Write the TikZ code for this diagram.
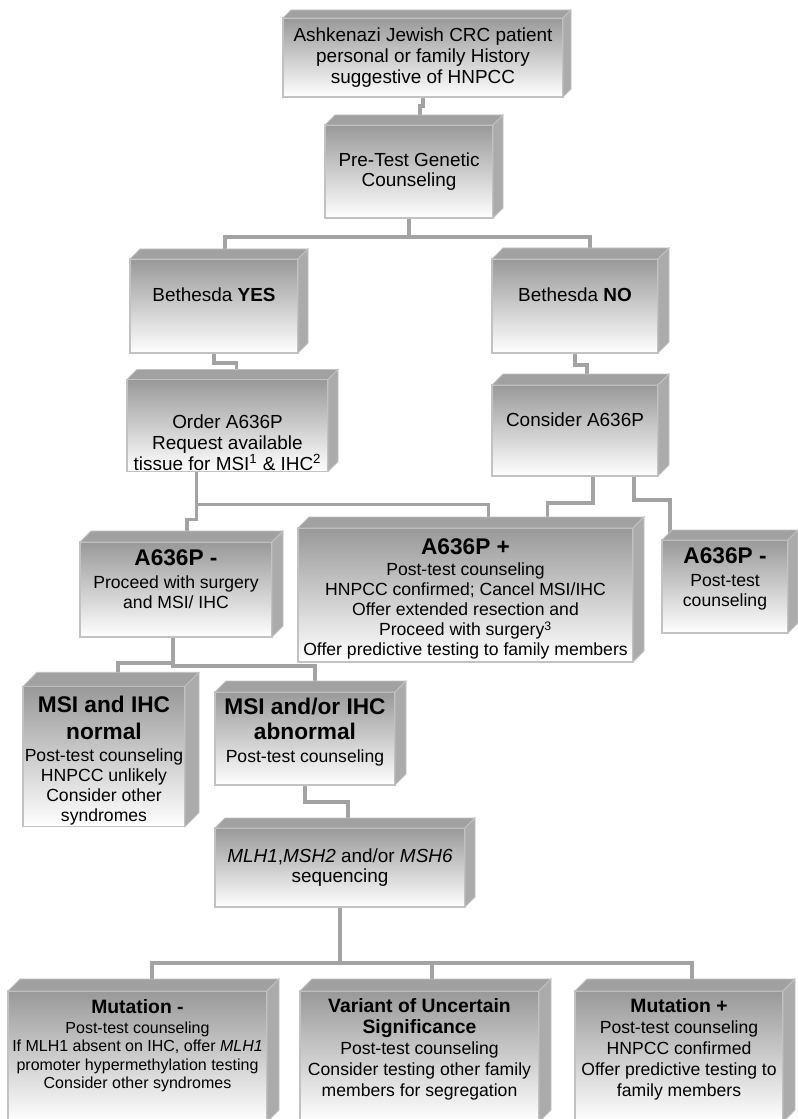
\documentclass[tikz,border=0pt]{standalone}
\usepackage{fontspec}
\setmainfont{Liberation Sans}
\usepackage{tikz}
\usetikzlibrary{backgrounds}
\definecolor{linkgray}{gray}{0.64}
\definecolor{edgegray}{gray}{0.76}
\definecolor{frontgray}{gray}{0.6}
\definecolor{topgray}{gray}{0.63}
\definecolor{sidegray}{gray}{0.67}
\newcommand{\head}[1]{{\fontsize{17}{19}\selectfont\bfseries #1}}
\newcommand{\headsm}[1]{{\fontsize{14.5}{16}\selectfont\bfseries #1}}
\newcommand{\padt}[1]{\rule{0pt}{#1}}
\newcommand{\padb}[1]{\rule[-#1]{0pt}{#1}}

\begin{document}
\begin{tikzpicture}[x=0.75pt,y=-0.75pt,% one unit = one pixel of the scan, y downwards
			every node/.style={
				rectangle,draw=edgegray,line width=0.8pt,
				top color=frontgray,bottom color=white,
				align=center,		% so that "\\" breaks lines
				inner sep=1pt,outer sep=0pt,
				font=\fontsize{14.2}{15.5}\selectfont
			},
			wh/.style 2 args={minimum width=#1*0.75pt,minimum height=#2*0.75pt},
			mid/.style={font=\fontsize{13.2}{15}\selectfont},
			low/.style={font=\fontsize{12}{13.8}\selectfont},
			lowb/.style={font=\fontsize{13.2}{15.7}\selectfont},
			link/.style={draw=linkgray,line width=2.6pt},
			topface/.style={fill=topgray,draw=edgegray,line width=0.6pt},
			sideface/.style={fill=sidegray,draw=edgegray,line width=0.6pt}
		]
		\useasboundingbox (0,0) rectangle (798,1119);
		\clip (0,0) rectangle (798,1119);
		% front faces
		\node[wh={280}{79}](hist) at (423,57.5){Ashkenazi Jewish CRC patient\\ personal or family History\\ suggestive of HNPCC};
		\node[wh={168}{93}](pretest) at (409,171.5){Pre-Test Genetic\\ Counseling};
		\node[wh={168}{94}](yes) at (214,306){Bethesda \textbf{YES}\padb{16.5pt}};
		\node[wh={166}{94}](no) at (575,306){Bethesda \textbf{NO}\padb{16.5pt}};
		\node[wh={201}{87}](order) at (227.5,425.5){\padt{36pt}Order A636P\\ Request available\\ tissue for MSI\textsuperscript{1} \& IHC\textsuperscript{2}};
		\node[wh={166}{91}](consider) at (575,430.5){Consider A636P\padb{15.8pt}};
		\node[wh={192}{95},mid](negA) at (176,589.5){\head{A636P -}\\[2pt] Proceed with surgery\\ and MSI/ IHC\padb{16pt}};
		\node[wh={335}{134},mid](posA) at (465.5,595){\padt{18pt}\head{A636P +}\\[1pt] Post-test counseling\\ HNPCC confirmed; Cancel MSI/IHC\\ Offer extended resection and\\ Proceed with surgery\textsuperscript{3}\\ Offer predictive testing to family members};
		\node[wh={126}{93},mid](negB) at (725,586.5){\head{A636P -}\\[2pt] Post-test\\ counseling\padb{14pt}};
		\node[wh={162}{133},mid](msinorm) at (104,756.5){\padt{18.5pt}\head{MSI and IHC}\\[5pt] \head{normal}\\[2pt] Post-test counseling\\ HNPCC unlikely\\ Consider other\\ syndromes};
		\node[wh={180}{93},mid](msiabn) at (305,738.5){\head{MSI and/or IHC}\\[4pt] \head{abnormal}\\[2pt] Post-test counseling\padb{12.6pt}};
		\node[wh={250}{79}](seq) at (340,867.5){\textit{MLH1},\textit{MSH2} and/or \textit{MSH6}\\ sequencing};
		\node[wh={259}{131},low](mutneg) at (137.5,1056.5){\headsm{Mutation -}\\[1.3pt] Post-test counseling\\ If MLH1 absent on IHC, offer \textit{MLH1}\\ promoter hypermethylation testing\\ Consider other syndromes\padb{19pt}};
		\node[wh={239}{131},lowb](vus) at (419.5,1056.5){\headsm{Variant of Uncertain}\\ \headsm{Significance}\\ Post-test counseling\\ Consider testing other family\\ members for segregation\padb{13.3pt}};
		\node[wh={208}{131},lowb](mutpos) at (679,1056.5){\headsm{Mutation +}\\ Post-test counseling\\ HNPCC confirmed\\ Offer predictive testing to\\ family members\padb{13.3pt}};
		% top and right faces of each box
		\foreach \n/\d in {hist/8,pretest/10,yes/10,no/11,order/10,consider/11,negA/11,posA/11,negB/10,msinorm/14,msiabn/11,seq/10,mutneg/12,vus/12,mutpos/12}{
			\filldraw[topface] (\n.north west) -- ([shift={(\d,-\d)}]\n.north west) -- ([shift={(\d,-\d)}]\n.north east) -- (\n.north east) -- cycle;
			\filldraw[sideface] (\n.north east) -- ([shift={(\d,-\d)}]\n.north east) -- ([shift={(\d,-\d)}]\n.south east) -- (\n.south east) -- cycle;
		}
		% connectors, behind the boxes
		\begin{pgfonlayer}{background}
			\fill[white] (0,0) rectangle (798,1119);
			\draw[link] (hist.south) -- ++(0,9) -| ([shift={(-3,0)}]hist.south |- pretest.north);
			\draw[link] (pretest.south) -- ++(0,19) -| ([shift={(11,0)}]yes.north);
			\draw[link] (pretest.south) -- ++(0,19) -| ([shift={(15,0)}]no.north);
			\draw[link] (yes.south) -- ++(0,10) -| ([shift={(9,0)}]order.north);
			\draw[link] (no.south) -- ++(0,12) -| ([shift={(12,0)}]consider.north);
			\draw[link] ([shift={(-31,0)}]order.south) -- ++(0,33) -| ([shift={(23,0)}]posA.north);
			\draw[link] ([shift={(-31,0)}]order.south) -- ++(0,48) -| ([shift={(11,0)}]negA.north);
			\draw[link] ([shift={(18,0)}]consider.south) -- ++(0,27) -| ([shift={(82,0)}]posA.north);
			\draw[link] ([shift={(59,0)}]consider.south) -- ++(0,24) -| ([shift={(-55,0)}]negB.north);
			\draw[link] ([shift={(-3,0)}]negA.south) -- ++(0,26) -| ([shift={(14,0)}]msinorm.north);
			\draw[link] ([shift={(-3,0)}]negA.south) -- ++(0,29) -| ([shift={(10,0)}]msiabn.north);
			\draw[link] (msiabn.south) -- ++(0,17) -| ([shift={(8,0)}]seq.north);
			\foreach \m/\s in {mutneg/14.5,vus/12.5,mutpos/13}
				\draw[link] (seq.south) -- ++(0,56) -| ([shift={(\s,0)}]\m.north);
		\end{pgfonlayer}
	\end{tikzpicture}
\end{document}
